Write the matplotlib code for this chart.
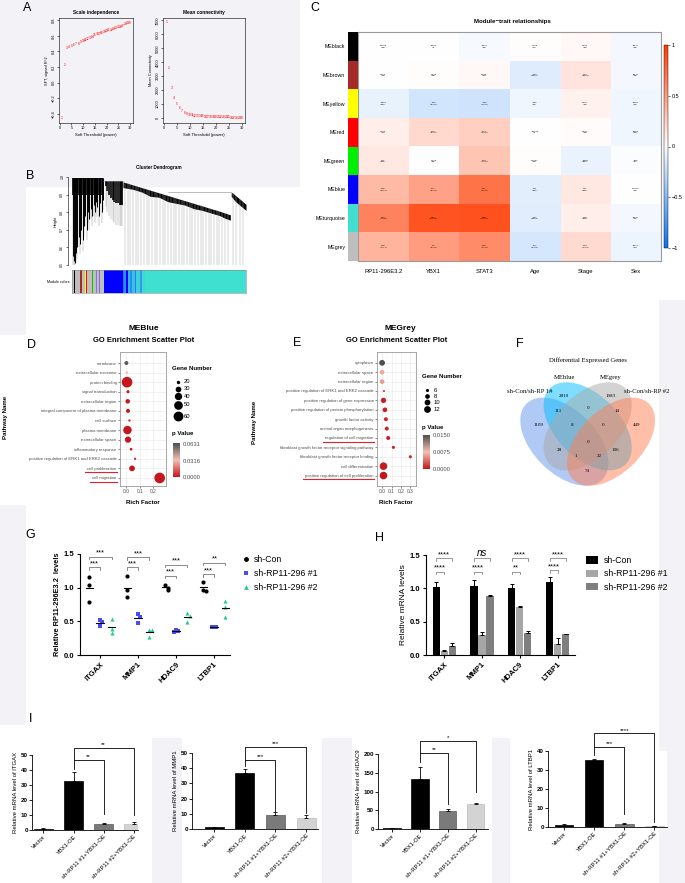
import numpy as np
import matplotlib.pyplot as plt
from matplotlib.colors import LinearSegmentedColormap, Normalize
from matplotlib.patches import Ellipse, Rectangle
from matplotlib.lines import Line2D
from matplotlib.cm import ScalarMappable

plt.rcParams['font.family'] = ['Liberation Sans', 'DejaVu Sans']

# ---------------- data ----------------
# A: soft threshold selection
powers = list(range(1, 31))
sft_r2 = [-0.46, 0.23, 0.44, 0.46, 0.47, 0.48, 0.49, 0.50, 0.52, 0.54, 0.55, 0.56, 0.57, 0.59, 0.61,
          0.62, 0.63, 0.64, 0.65, 0.66, 0.67, 0.68, 0.69, 0.70, 0.71, 0.72, 0.73, 0.75, 0.76, 0.77]
mean_k = [6850, 3580, 2150, 1430, 1020, 710, 520, 380, 300, 240, 200, 170, 150, 130, 115,
          100, 90, 80, 72, 65, 58, 52, 47, 42, 38, 34, 31, 28, 25, 22]

# B: dendrogram (leaf positions 0-100, heights)
left_x = [0.4, 1.0, 1.6, 2.3, 3.1, 3.9, 4.6, 5.4, 6.2, 7.0, 7.7, 8.5, 9.2, 10.0, 10.8, 11.6,
          12.4, 13.1, 13.9, 14.6, 15.4, 16.2, 17.0, 17.7]
left_bottom = [0.55, 0.52, 0.51, 0.57, 0.60, 0.66, 0.62, 0.70, 0.64, 0.72, 0.78, 0.70, 0.80, 0.76,
               0.82, 0.78, 0.84, 0.80, 0.86, 0.83, 0.78, 0.85, 0.80, 0.87]
arc_x = [19.3, 20.3, 21.3, 22.3, 23.3, 24.3, 25.3, 26.3, 27.3, 28.3, 29.0]
arc_bottom = [0.95, 0.92, 0.90, 0.88, 0.87, 0.86, 0.85, 0.85, 0.84, 0.84, 0.84]
band_x = [29.3, 35, 40, 45, 50, 55, 60, 65, 70, 75, 80, 85, 88, 91]
band_top = [0.972, 0.955, 0.94, 0.925, 0.91, 0.895, 0.88, 0.865, 0.85, 0.835, 0.82, 0.805, 0.795, 0.785]
band_bottom = [0.94, 0.93, 0.915, 0.89, 0.885, 0.86, 0.85, 0.84, 0.82, 0.81, 0.795, 0.78, 0.765, 0.755]
right_x = [91.5, 94, 97, 100]
right_top = [0.915, 0.895, 0.87, 0.845]
right_bottom = [0.89, 0.86, 0.835, 0.81]
hang_x = [30.5, 32.0, 33.6, 35.1, 36.7, 38.2, 39.8, 41.3, 42.9, 44.4, 46.0, 47.5, 49.1, 50.6, 52.2,
          53.7, 55.3, 56.8, 58.4, 59.9, 61.5, 63.0, 64.6, 66.1, 67.7, 69.2, 70.8, 72.3, 73.9, 75.4,
          77.0, 78.5, 80.1, 81.6, 83.2, 84.7, 86.3, 87.8, 89.4, 92.5, 94.5, 96.5, 98.5]
seg_edges = [0, 1.0, 1.6, 4.6, 5.8, 7.3, 8.1, 8.5, 11.6, 12.2, 13.9, 14.5, 15.4, 16.0, 18.3, 29.1,
             30.0, 31.0, 32.0, 33.5, 34.5, 36.0, 37.0, 39.0, 40.0, 42.0, 100]
seg_colors = ['#BEBEBE', 'black', '#BEBEBE', '#A52A2A', '#BEBEBE', '#FFFF00', '#FF0000', '#BEBEBE',
              '#00CC00', '#BEBEBE', '#9370DB', '#BEBEBE', '#7B68EE', '#BEBEBE', '#0000FF', '#4169E1',
              '#1E90FF', '#0000FF', '#3CB3E0', '#1E90FF', '#40C0E0', '#1E7FFF', '#40D0D8', '#2E9AF0',
              '#40D8D4', '#40E0D0']

# C: module-trait relationships
modules = ['MEblack', 'MEbrown', 'MEyellow', 'MEred', 'MEgreen', 'MEblue', 'MEturquoise', 'MEgrey']
module_colors = ['black', '#A52A2A', '#FFFF00', '#FF0000', '#00EE00', '#0000FF', '#40E0D0', '#BEBEBE']
traits = ['RP11-296E3.2', 'YBX1', 'STAT3', 'Age', 'Stage', 'Sex']
cor = [[-0.0059, -0.003, -0.034, 0.008, 0.033, -0.045],
       [0.006, 0.009, 0.038, -0.13, 0.14, -0.043],
       [-0.089, -0.18, -0.19, -0.06, 0.067, -0.058],
       [0.079, 0.19, 0.24, -0.0023, 0.021, -0.058],
       [0.11, 0.003, 0.29, 0.0097, -0.084, -0.02],
       [0.35, 0.47, 0.71, -0.11, 0.11, 0.0054],
       [0.63, 0.86, 0.88, -0.12, 0.08, -0.043],
       [0.38, 0.5, 0.58, -0.17, 0.18, -0.073]]
pvals = [['0.9', '1', '0.3', '0.7', '0.5', '0.3'],
         ['0.9', '0.8', '0.3', '0.007', '0.003', '0.4'],
         ['0.06', '9e-05', '4e-05', '0.2', '0.2', '0.2'],
         ['0.1', '6e-05', '4e-07', '1', '0.6', '0.2'],
         ['0.01', '0.9', '1e-10', '0.8', '0.07', '0.7'],
         ['2e-14', '6e-28', '2e-72', '0.02', '0.01', '0.9'],
         ['1e-53', '8e-133', '1e-152', '0.009', '0.09', '0.4'],
         ['1e-17', '5e-32', '1e-41', '2e-04', '1e-04', '0.1']]

# D: MEBlue GO enrichment
d_terms = ['membrane', 'extracellular exosome', 'protein binding', 'signal transduction',
           'extracellular region', 'integral component of plasma membrane', 'cell surface',
           'plasma membrane', 'extracellular space', 'inflammatory response',
           'positive regulation of ERK1 and ERK2 cascade', 'cell proliferation', 'cell migration']
d_rich = [0.0, 0.003, 0.005, 0.012, 0.010, 0.012, 0.023, 0.008, 0.012, 0.035, 0.065, 0.042, 0.248]
d_genes = [22, 17, 68, 19, 24, 22, 17, 48, 33, 18, 16, 30, 68]
d_p = [0.0631, 0.030, 0.0002, 0.0003, 0.0002, 0.0004, 0.0010, 0.0001, 0.0002, 0.0008, 0.0015, 0.0005, 0.0000]

# E: MEGrey GO enrichment
e_terms = ['cytoplasm', 'extracellular space', 'extracellular region',
           'positive regulation of ERK1 and ERK2 cascade', 'positive regulation of gene expression',
           'positive regulation of protein phosphorylation', 'growth factor activity',
           'animal organ morphogenesis', 'regulation of cell migration',
           'fibroblast growth factor receptor signaling pathway', 'fibroblast growth factor receptor binding',
           'cell differentiation', 'positive regulation of cell proliferation']
e_rich = [0.0, 0.0, 0.0, 0.02, 0.015, 0.03, 0.04, 0.05, 0.065, 0.12, 0.30, 0.015, 0.015]
e_genes = [10, 8, 8, 5, 9, 8, 7, 7, 7, 6, 6, 14, 14]
e_p = [0.0150, 0.0065, 0.0060, 0.0006, 0.0004, 0.0005, 0.0008, 0.0006, 0.0004, 0.0007, 0.0009, 0.0002, 0.0001]

# F: Venn
venn_sets = ['sh-Con/sh-RP 1#', 'MEblue', 'MEgrey', 'sh-Con/sh-RP #2']
venn_counts = [2810, 1983, 0, 111, 14, 1109, 8, 0, 449, 0, 28, 106, 1, 22, 74]

# G: RP11-296E3.2 levels (dot plot)
genes = ['ITGAX', 'MMP1', 'HDAC9', 'LTBP1']
g_groups = ['sh-Con', 'sh-RP11-296 #1', 'sh-RP11-296 #2']
g_con = [[1.16, 1.04, 0.79], [1.17, 0.96, 0.86], [1.04, 1.00, 0.97], [1.09, 0.97, 0.95]]
g_sh1 = [[0.52, 0.49, 0.43], [0.61, 0.56, 0.47], [0.37, 0.35, 0.34], [0.42, 0.41, 0.41]]
g_sh2 = [[0.53, 0.39, 0.33], [0.37, 0.37, 0.27], [0.62, 0.58, 0.49], [0.80, 0.72, 0.56]]
g_inner = [1.30, 1.30, 1.18, 1.20]
g_outer = [1.46, 1.45, 1.34, 1.37]
g_inner_txt = ['***', '***', '***', '***']
g_outer_txt = ['***', '***', '***', '**']

# H: mRNA levels (bars)
h_mean = [[1.02, 0.06, 0.14], [1.03, 0.30, 0.88], [1.00, 0.72, 0.33], [1.10, 0.17, 0.31]]
h_err = [[0.08, 0.02, 0.04], [0.10, 0.05, 0.02], [0.07, 0.01, 0.03], [0.07, 0.09, 0.01]]
h_inner = [1.25, 1.25, 1.25, 1.27]
h_outer = [1.45, 1.45, 1.45, 1.45]
h_inner_txt = ['****', '****', '**', '****']
h_outer_txt = ['****', 'ns', '****', '****']

# I: YBX1 overexpression rescue
i_labels = ['Vector', 'YBX1-OE', 'sh-RP11 #1+YBX1-OE', 'sh-RP11 #2+YBX1-OE']
i_mean = [[1.0, 33, 4.0, 4.0], [1.2, 37, 9.5, 7.5], [2, 133, 48, 67], [1.2, 35.5, 1.5, 0.5]]
i_err = [[0.3, 6, 0.6, 1.2], [0.3, 2.3, 1.8, 2.0], [0.5, 32, 6, 3], [0.2, 0.3, 0.7, 0.2]]
i_ymax = [50, 50, 200, 40]
i_ystep = [10, 10, 50, 10]
i_start = [41, 41.5, 179, 38]
i_inner = [47, 45.6, 204, 42.3]
i_outer = [55, 54, 236, 49.3]
i_inner_end = [11, 12, 68, 7]
i_outer_end = [10, 10.5, 100, 2.6]
i_inner_txt = ['**', '***', '**', '***']
i_outer_txt = ['**', '***', '*', '****']

# ---------------- layout helpers ----------------
W, H = 685, 883
fig = plt.figure(figsize=(W / 100, H / 100), dpi=100)
fig.patch.set_facecolor('white')
BG = '#F3F3F7'


def rect(x0, y0, x1, y1):
    return [x0 / W, 1 - y1 / H, (x1 - x0) / W, (y1 - y0) / H]


for x0, y0, x1, y1 in [(0, 0, 300, 187), (0, 187, 26, 335), (0, 505, 26, 725), (659, 300, 685, 883),
                       (152, 738, 182, 883), (322, 738, 352, 883), (492, 738, 510, 883)]:
    fig.patches.append(Rectangle((x0 / W, 1 - y1 / H), (x1 - x0) / W, (y1 - y0) / H,
                                 transform=fig.transFigure, facecolor=BG, edgecolor='none', zorder=-10))

# overlay in pixel coordinates for legends / titles
ov = fig.add_axes([0, 0, 1, 1])
ov.set_xlim(0, W)
ov.set_ylim(H, 0)
ov.axis('off')
ov.set_zorder(1)


def letter(x, y, s):
    fig.text(x / W, 1 - y / H, s, fontsize=9, ha='center', va='center', zorder=10)


for x, y, s in [(27, 8, 'A'), (30, 176, 'B'), (315, 8, 'C'), (31, 345, 'D'), (297, 343, 'E'),
                (520, 344, 'F'), (30, 535, 'G'), (380, 538, 'H'), (31, 719, 'I')]:
    letter(x, y, s)

# ---------------- A ----------------
for r, vals, yl, title, lim, ticks in [
        ((59, 18, 133, 123), sft_r2, 'SFT, signed R^2', 'Scale independence', (-0.52, 0.83),
         [-0.4, -0.2, 0.0, 0.2, 0.4, 0.6, 0.8]),
        ((163, 18, 245, 123), mean_k, 'Mean Connectivity', 'Mean connectivity', (-360, 7170),
         list(range(0, 7001, 1000)))]:
    ax = fig.add_axes(rect(*r))
    ax.set_facecolor('none')
    for p, v in zip(powers, vals):
        ax.text(p, v, str(p), color='red', fontsize=2.4, ha='center', va='center')
    ax.set_xlim(-0.3, 31.2)
    ax.set_ylim(*lim)
    ax.set_xticks(range(0, 31, 5))
    ax.set_yticks(ticks)
    ax.tick_params(labelsize=2.8, length=1.5, width=0.4, pad=1)
    ax.tick_params(axis='y', labelrotation=90)
    for t in ax.get_yticklabels():
        t.set_va('center')
    for s in ax.spines.values():
        s.set_linewidth(0.4)
    ax.set_xlabel('Soft Threshold (power)', fontsize=3, labelpad=2)
    ax.set_ylabel(yl, fontsize=2.8, labelpad=2)
    ax.set_title(title, fontsize=3.4, fontweight='bold', pad=3)

# ---------------- B ----------------
axb = fig.add_axes(rect(72, 177, 246, 265))
axb.set_facecolor('none')
axb.set_xlim(0, 100)
axb.set_ylim(0.5, 1.0)
axb.vlines(hang_x, 0.5, np.interp(hang_x, band_x + right_x, band_top + right_top),
           color='#AAAAAA', lw=0.35)
axb.vlines(left_x, [b - 0.06 for b in left_bottom], 0.995, color='#999999', lw=0.35)
axb.vlines(left_x, left_bottom, 0.995, color='black', lw=0.7)
axb.fill_between([0, 18], 0.9, 0.995, color='black', lw=0)
axb.vlines(arc_x, arc_bottom, 0.975, color='black', lw=1.2)
axb.vlines(arc_x, [b - 0.12 for b in arc_bottom], arc_bottom, color='#999999', lw=0.35)
axb.fill_between(band_x, band_bottom, band_top, color='black', lw=0)
axb.fill_between(right_x, right_bottom, right_top, color='black', lw=0)
axb.hlines(0.975, 17.7, 29.3, color='#888888', lw=0.4)
axb.hlines(0.915, 55, 91.5, color='#888888', lw=0.4)
axb.hlines(0.995, 0, 18, color='black', lw=0.5)
for s in ['top', 'right', 'bottom']:
    axb.spines[s].set_visible(False)
axb.spines['left'].set_position(('outward', 3))
axb.spines['left'].set_linewidth(0.4)
axb.set_xticks([])
axb.set_yticks([0.5, 0.6, 0.7, 0.8, 0.9, 1.0])
axb.tick_params(axis='y', labelsize=2.5, length=1.5, width=0.4, pad=1, labelrotation=90)
for t in axb.get_yticklabels():
    t.set_va('center')
axb.set_ylabel('Height', fontsize=2.8, labelpad=2)
fig.text(159 / W, 1 - 167 / H, 'Cluster Dendrogram', fontsize=3.3, fontweight='bold', ha='center', va='center')

axm = fig.add_axes(rect(72, 270, 246, 293))
for a, b, c in zip(seg_edges[:-1], seg_edges[1:], seg_colors):
    axm.axvspan(a, b, color=c, lw=0)
axm.set_xlim(0, 100)
axm.set_xticks([])
axm.set_yticks([])
for s in axm.spines.values():
    s.set_linewidth(0.4)
    s.set_color('#888888')
fig.text(70 / W, 1 - 282 / H, 'Module colors', fontsize=2.6, ha='right', va='center')

# ---------------- C ----------------
heat_cmap = LinearSegmentedColormap.from_list('bwr_c', ['#0A72F0', '#FFFFFF', '#FF3A00'])
axh = fig.add_axes(rect(358, 32, 661, 261))
im = axh.imshow(np.array(cor), cmap=heat_cmap, vmin=-1, vmax=1, aspect='auto',
                extent=(0, len(traits), len(modules), 0))
for i in range(len(modules)):
    for j in range(len(traits)):
        axh.text(j + 0.5, i + 0.5, f'{cor[i][j]:g}\n({pvals[i][j]})', fontsize=1.7,
                 ha='center', va='center', linespacing=1.4)
axh.set_xticks([j + 0.5 for j in range(len(traits))])
axh.set_xticklabels(traits, fontsize=4.2)
axh.set_yticks([])
axh.tick_params(axis='x', length=0, pad=6)
for s in axh.spines.values():
    s.set_color('#9A9A9A')
    s.set_linewidth(0.8)

axc = fig.add_axes(rect(348, 32, 358, 261))
for i, c in enumerate(module_colors):
    axc.add_patch(Rectangle((0, i), 1, 1, color=c, lw=0))
axc.set_xlim(0, 1)
axc.set_ylim(len(modules), 0)
axc.set_xticks([])
axc.set_yticks([i + 0.5 for i in range(len(modules))])
axc.set_yticklabels(modules, fontsize=3.8)
axc.tick_params(axis='y', length=0, pad=2)
for s in axc.spines.values():
    s.set_visible(False)

axcb = fig.add_axes(rect(664, 45, 668, 248))
cb = fig.colorbar(im, cax=axcb, ticks=[-1, -0.5, 0, 0.5, 1])
cb.ax.set_yticklabels(['\u22121', '\u22120.5', '0', '0.5', '1'])
cb.ax.tick_params(labelsize=4, length=1.5, width=0.4, pad=1)
cb.outline.set_linewidth(0.3)
fig.text(512 / W, 1 - 22 / H, 'Module\u2212trait relationships', fontsize=4.4, fontweight='bold',
         ha='center', va='center')

# ---------------- D & E ----------------
p_cmap = LinearSegmentedColormap.from_list('pv', ['#C4161C', '#F2C1B0', '#4D4D4D'])


def go_panel(r, terms, rich, genes_n, pv, xlim, xticks, ylim, size_fn, vmax):
    ax = fig.add_axes(rect(*r))
    n = len(terms)
    ys = list(range(n, 0, -1))
    ax.scatter(rich, ys, s=[size_fn(g) for g in genes_n], c=pv, cmap=p_cmap, vmin=0, vmax=vmax,
               lw=0, zorder=3)
    ax.set_xlim(*xlim)
    ax.set_ylim(*ylim)
    ax.set_xticks(xticks)
    ax.set_xticklabels([f'{t:.1f}' for t in xticks], fontsize=3.5, color='#4D4D4D')
    ax.set_xticks([t + 0.05 for t in xticks], minor=True)
    ax.set_yticks(ys)
    ax.set_yticklabels(terms, fontsize=3.1, color='#4D4D4D')
    ax.tick_params(length=1.5, width=0.4, color='#333333', pad=1)
    ax.tick_params(which='minor', length=0)
    ax.grid(True, which='major', color='#EBEBEB', lw=0.5)
    ax.grid(True, which='minor', axis='x', color='#F2F2F2', lw=0.3)
    ax.set_axisbelow(True)
    for s in ax.spines.values():
        s.set_color('#9A9A9A')
        s.set_linewidth(0.6)
    return ax


def d_size(g):
    return max(2.5, 6 + (g - 20) * 1.1)


def e_size(g):
    return 2 + (g - 5) * 3.1


axd = go_panel((120, 352, 166, 486), d_terms, d_rich, d_genes, d_p, (-0.0475, 0.295), [0.0, 0.1, 0.2],
               (0.16, 14.15), d_size, 0.066)
axe = go_panel((377, 352, 416, 486), e_terms, e_rich, e_genes, e_p, (-0.054, 0.36),
               [0.0, 0.1, 0.2, 0.3], (-0.11, 14.15), e_size, 0.0152)

for cx, name in [(144, 'MEBlue'), (400, 'MEGrey')]:
    ov.text(cx, 328, name, fontsize=6, fontweight='bold', ha='center', va='center')
for cx in [144, 397]:
    ov.text(cx, 341, 'GO Enrichment Scatter Plot', fontsize=5.5, fontweight='bold', ha='center', va='center')
for x, y in [(6, 417), (255, 422)]:
    ov.text(x, y, 'Pathway Name', fontsize=4.4, fontweight='bold', rotation=90, ha='center', va='center')
for x in [143, 396]:
    ov.text(x, 503, 'Rich Factor', fontsize=4.4, fontweight='bold', ha='center', va='center')

# size legends
ov.text(172, 369, 'Gene Number', fontsize=4.4, fontweight='bold', ha='left', va='center')
ov.text(172, 433, 'p Value', fontsize=4.4, fontweight='bold', ha='left', va='center')
for g, y in zip([20, 30, 40, 50, 60], [381.7, 388.7, 396, 405, 416]):
    ov.scatter([178], [y], s=d_size(g), color='black', lw=0)
    ov.text(184, y, str(g), fontsize=4.2, ha='left', va='center')
ov.text(422, 377, 'Gene Number', fontsize=4.4, fontweight='bold', ha='left', va='center')
ov.text(422, 427, 'p Value', fontsize=4.4, fontweight='bold', ha='left', va='center')
for g, y in zip([6, 8, 10, 12], [390, 396, 402, 409.3]):
    ov.scatter([426.7], [y], s=e_size(g), color='black', lw=0)
    ov.text(434, y, str(g), fontsize=4.2, ha='left', va='center')

for r, vmax, ticks, fmt in [((173, 443, 180, 477), 0.066, [0, 0.0316, 0.0631], '{:.4f}'),
                            ((423, 435, 430, 469), 0.0152, [0, 0.0075, 0.0150], '{:.4f}')]:
    cax = fig.add_axes(rect(*r))
    cbp = fig.colorbar(ScalarMappable(Normalize(0, vmax), p_cmap), cax=cax, ticks=ticks)
    cbp.ax.set_yticklabels([fmt.format(t) for t in ticks])
    cbp.ax.tick_params(labelsize=4.2, length=0, pad=2, labelcolor='#4D4D4D')
    cbp.outline.set_visible(False)

# ---------------- F ----------------
axf = fig.add_axes(rect(463, 320, 659, 520))
axf.set_xlim(24, 612)
axf.set_ylim(600, 0)
axf.axis('off')
axf.set_zorder(3)
axf.add_patch(Rectangle((24, 0), 588, 600, facecolor='white', edgecolor='none', zorder=0))
ell_centers = [(328, 365), (398, 319), (398, 319), (468, 365)]
ell_angles = [45, 45, -45, -45]
ell_colors = ['cornflowerblue', 'deepskyblue', 'darkgrey', 'coral']
for (cx, cy), ang, col in zip(ell_centers, ell_angles, ell_colors):
    axf.add_patch(Ellipse((cx, cy), 322, 190, angle=ang, facecolor=col, alpha=0.5, edgecolor='none', zorder=1))
venn_pos = [(328, 228), (467, 228), (398, 265), (310, 273), (487, 273), (250, 315), (350, 315),
            (445, 315), (545, 315), (398, 367), (314, 390), (481, 390), (362, 408), (432, 408), (397, 453)]
for (x, y), n in zip(venn_pos, venn_counts):
    axf.text(x, y, str(n), fontsize=3.6, family='Liberation Serif', ha='center', va='center', zorder=2)
for (x, y), s in zip([(225, 215), (328, 172), (467, 172), (575, 215)], venn_sets):
    axf.text(x, y, s, fontsize=4.8, family='Liberation Serif', ha='center', va='center', zorder=2, clip_on=False)
axf.text(398, 122, 'Differential Expressed Genes', fontsize=4.8, family='Liberation Serif',
         ha='center', va='center', zorder=2)

# ---------------- G ----------------
axg = fig.add_axes(rect(80, 554, 230, 655))
offs = [-0.28, 0.0, 0.3]
g_style = [('o', 'black'), ('s', '#4B4BF0'), ('^', '#2FC98E')]


def spread(vals, tol=0.06, step=0.055):
    res = []
    for i, v in enumerate(vals):
        k = sum(1 for u in vals[:i] if abs(u - v) < tol)
        res.append([0, step, -step, 2 * step][k])
    return res


for gi in range(len(genes)):
    for k, data in enumerate([g_con[gi], g_sh1[gi], g_sh2[gi]]):
        x0 = gi + offs[k]
        mk, col = g_style[k]
        axg.plot([x0 + d for d in spread(data)], data, mk, color=col, ms=3, mew=0, clip_on=False)
        m = np.mean(data)
        axg.plot([x0 - 0.1, x0 + 0.1], [m, m], color='black', lw=0.8)


def bracket(ax, x0, x1, y, txt, color, tick, fs=5.5, style='normal'):
    ax.plot([x0, x0, x1, x1], [y - tick, y, y, y - tick], color=color, lw=0.6, clip_on=False)
    ax.text((x0 + x1) / 2, y, txt, ha='center', va='bottom', fontsize=fs, style=style, clip_on=False)


for gi in range(len(genes)):
    bracket(axg, gi + offs[0], gi + offs[1], g_inner[gi], g_inner_txt[gi], '#777777', 0.04)
    bracket(axg, gi + offs[0], gi + offs[2], g_outer[gi], g_outer_txt[gi], '#777777', 0.04)

axg.set_xlim(-0.53, 3.42)
axg.set_ylim(0, 1.5)
axg.set_yticks([0, 0.5, 1.0, 1.5])
axg.set_xticks(range(len(genes)))
axg.set_xticklabels(genes, rotation=45, ha='right', rotation_mode='anchor', fontsize=5.5, fontweight='bold')
for t in axg.get_yticklabels():
    t.set_fontweight('bold')
axg.tick_params(labelsize=5.5, length=2.5, width=0.8, pad=1.5)
for s in ['top', 'right']:
    axg.spines[s].set_visible(False)
for s in ['left', 'bottom']:
    axg.spines[s].set_linewidth(0.8)
axg.set_ylabel('Relative RP11-296E3.2  levels', fontsize=5.3, fontweight='bold', labelpad=2)
g_handles = [Line2D([], [], marker=mk, color=col, ls='none', ms=3.5, mew=0) for mk, col in g_style]
fig.legend(g_handles, g_groups, loc='upper left', bbox_to_anchor=(242 / W, 1 - 555 / H), frameon=False,
           fontsize=6.3, handlelength=0.8, handletextpad=0.6, labelspacing=0.55, borderpad=0, borderaxespad=0)

# ---------------- H ----------------
axhh = fig.add_axes(rect(426, 555, 575, 655))
h_offs = [-0.21, 0.0, 0.21]
h_colors = ['black', '#A6A6A6', '#7F7F7F']
for k in range(3):
    xs = [gi + h_offs[k] for gi in range(len(genes))]
    ms = [h_mean[gi][k] for gi in range(len(genes))]
    es = [h_err[gi][k] for gi in range(len(genes))]
    axhh.bar(xs, ms, width=0.19, color=h_colors[k], label=g_groups[k])
    axhh.errorbar(xs, ms, yerr=[[0] * len(es), es], fmt='none', ecolor='black', elinewidth=0.7,
                  capsize=1.5, capthick=0.7)
for gi in range(len(genes)):
    bracket(axhh, gi + h_offs[0], gi + h_offs[1], h_inner[gi], h_inner_txt[gi], '#888888', 0.04)
    if h_outer_txt[gi] == 'ns':
        bracket(axhh, gi + h_offs[0], gi + h_offs[2], h_outer[gi], 'ns', '#888888', 0.04, fs=7, style='italic')
    else:
        bracket(axhh, gi + h_offs[0], gi + h_offs[2], h_outer[gi], h_outer_txt[gi], '#888888', 0.04)
axhh.set_xlim(-0.48, 3.46)
axhh.set_ylim(0, 1.5)
axhh.set_yticks([0, 0.5, 1.0, 1.5])
axhh.set_xticks(range(len(genes)))
axhh.set_xticklabels(genes, rotation=45, ha='right', rotation_mode='anchor', fontsize=5.5, fontweight='bold')
for t in axhh.get_yticklabels():
    t.set_fontweight('bold')
axhh.tick_params(labelsize=5.5, length=2.5, width=0.8, pad=1.5)
for s in ['top', 'right']:
    axhh.spines[s].set_visible(False)
for s in ['left', 'bottom']:
    axhh.spines[s].set_linewidth(0.8)
axhh.set_ylabel('Relative mRNA levels', fontsize=6, labelpad=2)
fig.legend(*axhh.get_legend_handles_labels(), loc='upper left', bbox_to_anchor=(586 / W, 1 - 556 / H),
           frameon=False, fontsize=6.3, handlelength=1.4, handleheight=0.9, handletextpad=0.6,
           labelspacing=0.5, borderpad=0, borderaxespad=0)

# ---------------- I ----------------
i_rects = [(32, 755, 138, 830), (192, 753, 318, 829), (378, 754, 488, 829), (548, 751, 667, 827)]
i_xlims = [(-0.38, 3.14), (-0.72, 3.39), (-0.5, 3.44), (-0.53, 3.42)]
i_colors = ['black', 'black', '#7A7A7A', '#D3D3D3']
i_edges = ['black', 'black', '#5A5A5A', '#BDBDBD']
for pi in range(4):
    ax = fig.add_axes(rect(*i_rects[pi]))
    xs = list(range(4))
    ax.bar(xs, i_mean[pi], width=0.62, color=i_colors, edgecolor=i_edges, lw=0.5)
    ax.errorbar(xs, i_mean[pi], yerr=[[0] * 4, i_err[pi]], fmt='none', ecolor='black', elinewidth=0.6,
                capsize=1.5, capthick=0.6)
    ax.plot([1, 1, 2, 2], [i_start[pi], i_inner[pi], i_inner[pi], i_inner_end[pi]], color='black', lw=0.6,
            clip_on=False)
    ax.plot([1, 1, 3, 3], [i_inner[pi], i_outer[pi], i_outer[pi], i_outer_end[pi]], color='black', lw=0.6,
            clip_on=False)
    ym = i_ymax[pi]
    ax.text(1.5, i_inner[pi] + 0.01 * ym, i_inner_txt[pi], ha='center', va='bottom', fontsize=4.5, clip_on=False)
    ax.text(2.0, i_outer[pi] + 0.01 * ym, i_outer_txt[pi], ha='center', va='bottom', fontsize=4.5, clip_on=False)
    ax.set_xlim(*i_xlims[pi])
    ax.set_ylim(0, ym)
    ax.set_yticks(range(0, ym + 1, i_ystep[pi]))
    ax.set_xticks(xs)
    ax.set_xticklabels(i_labels, rotation=45, ha='right', rotation_mode='anchor', fontsize=4.2)
    for t in ax.get_yticklabels():
        t.set_fontweight('bold')
    ax.tick_params(labelsize=4.5, length=2, width=0.6, pad=1)
    ax.tick_params(axis='x', labelsize=4.2)
    for s in ['top', 'right']:
        ax.spines[s].set_visible(False)
    for s in ['left', 'bottom']:
        ax.spines[s].set_linewidth(0.6)
    ax.set_ylabel(f'Relative mRNA level of {genes[pi]}', fontsize=4.3, labelpad=2)

# ---------------- red underlines in D / E ----------------
fig.canvas.draw()
renderer = fig.canvas.get_renderer()
for ax, targets in [(axd, ['cell proliferation', 'cell migration']),
                    (axe, ['regulation of cell migration', 'positive regulation of cell proliferation'])]:
    for lbl in ax.get_yticklabels():
        if lbl.get_text() in targets:
            bb = lbl.get_window_extent(renderer)
            y = (bb.y0 - 1.2) / H
            fig.add_artist(Line2D([(bb.x0 - 2.5) / W, (bb.x1 + 0.5) / W], [y, y], color='#E8202A', lw=0.8,
                                  transform=fig.transFigure, zorder=10))

fig.savefig('out.png', dpi=100)
